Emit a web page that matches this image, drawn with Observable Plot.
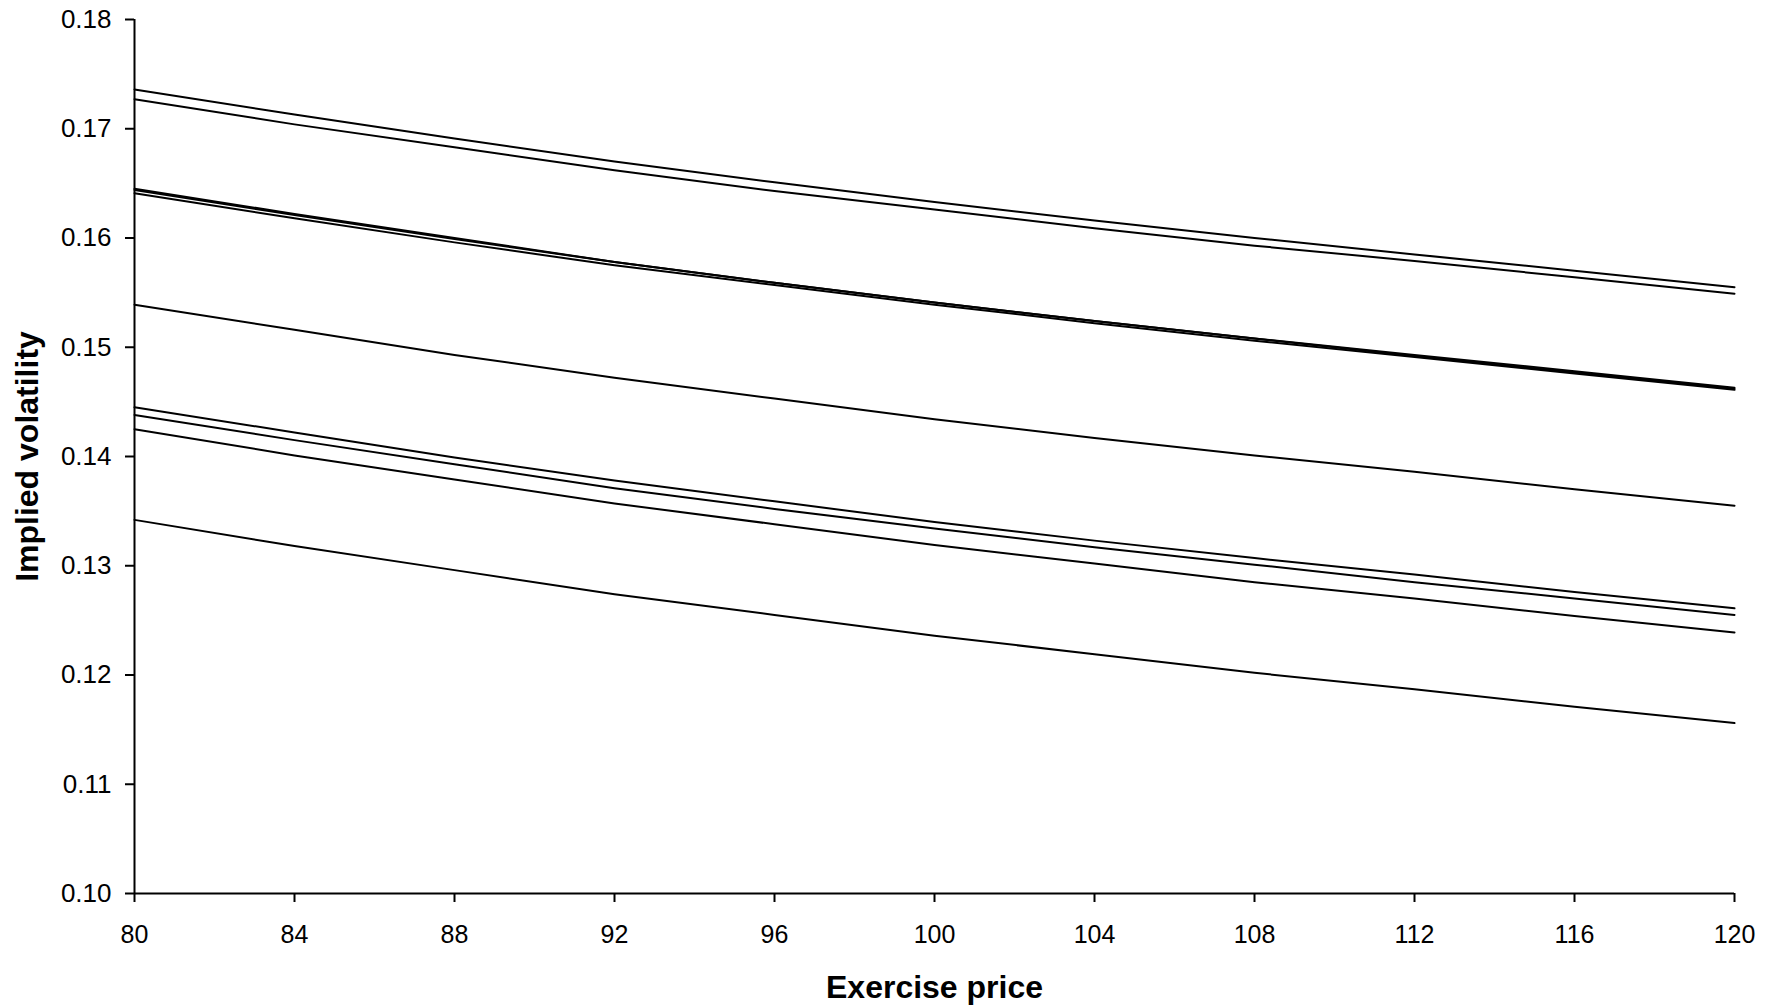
<!DOCTYPE html>
<html>
<head>
<meta charset="utf-8">
<script src="https://cdn.jsdelivr.net/npm/d3@7"></script>
<script src="https://cdn.jsdelivr.net/npm/@observablehq/plot@0.6"></script>
<style>
  html, body { margin: 0; padding: 0; background: #fff; }
</style>
</head>
<body>
<div id="chart"></div>
<script>
const strikes = [80, 84, 88, 92, 96, 100, 104, 108, 112, 116, 120];
const xTicks = [80, 84, 88, 92, 96, 100, 104, 108, 112, 116, 120];
const yTicks = [0.10, 0.11, 0.12, 0.13, 0.14, 0.15, 0.16, 0.17, 0.18];

const s1  = [0.1736, 0.1713, 0.1691, 0.1670, 0.1651, 0.1633, 0.1616, 0.1600, 0.1585, 0.1570, 0.1555];
const s2  = [0.1727, 0.1704, 0.1683, 0.1662, 0.1643, 0.1626, 0.1609, 0.1593, 0.1579, 0.1564, 0.1549];
const s3  = [0.1645, 0.1622, 0.1600, 0.1578, 0.1559, 0.1541, 0.1524, 0.1508, 0.1492, 0.1477, 0.1462];
const s4  = [0.1644, 0.1621, 0.1599, 0.1578, 0.1559, 0.1541, 0.1524, 0.1508, 0.1493, 0.1478, 0.1463];
const s5  = [0.1641, 0.1618, 0.1596, 0.1575, 0.1557, 0.1539, 0.1522, 0.1506, 0.1491, 0.1476, 0.1461];
const s6  = [0.1539, 0.1516, 0.1493, 0.1472, 0.1453, 0.1434, 0.1417, 0.1401, 0.1386, 0.1370, 0.1355];
const s7  = [0.1445, 0.1422, 0.1399, 0.1378, 0.1359, 0.1340, 0.1323, 0.1307, 0.1292, 0.1276, 0.1261];
const s8  = [0.1438, 0.1415, 0.1393, 0.1371, 0.1352, 0.1334, 0.1317, 0.1301, 0.1285, 0.1270, 0.1255];
const s9  = [0.1425, 0.1401, 0.1379, 0.1357, 0.1338, 0.1319, 0.1302, 0.1285, 0.1270, 0.1254, 0.1239];
const s10 = [0.1342, 0.1318, 0.1296, 0.1274, 0.1255, 0.1236, 0.1219, 0.1202, 0.1187, 0.1171, 0.1156];

const xLabel = "Exercise price";
const yLabel = "Implied volatility";

const series = [s1, s2, s3, s4, s5, s6, s7, s8, s9, s10];
const rows = [];
series.forEach((s, k) => s.forEach((v, i) => rows.push({series: k, x: strikes[i], y: v})));

const chart = Plot.plot({
  width: 1775,
  height: 1006,
  marginLeft: 134,
  marginRight: 41,
  marginTop: 19,
  marginBottom: 113,
  style: {fontFamily: "'Liberation Sans', Arial, sans-serif", fontSize: "25px", color: "#000", background: "#fff"},
  x: {domain: [80, 120]},
  y: {domain: [0.10, 0.18]},
  marks: [
    Plot.line(rows, {x: "x", y: "y", z: "series", stroke: "#000", strokeWidth: 2}),
    Plot.ruleX([80], {stroke: "#000", strokeWidth: 2}),
    Plot.ruleY([0.10], {stroke: "#000", strokeWidth: 2}),
    Plot.axisY({ticks: yTicks, tickFormat: d3.format(".2f"), tickSize: 9, tickPadding: 14, strokeWidth: 2, fontSize: 26, label: null}),
    Plot.axisX({ticks: xTicks, tickFormat: d => String(d), tickSize: 9, tickPadding: 23, strokeWidth: 2, fontSize: 25, label: null}),
    Plot.text([xLabel], {frameAnchor: "bottom", dy: 94, lineAnchor: "middle", textAnchor: "middle", fontSize: 32, fontWeight: "bold", fill: "#000"}),
    Plot.text([yLabel], {frameAnchor: "left", dx: -107, rotate: -90, lineAnchor: "middle", textAnchor: "middle", fontSize: 32, fontWeight: "bold", fill: "#000"})
  ]
});
document.getElementById("chart").appendChild(chart);
</script>
</body>
</html>
